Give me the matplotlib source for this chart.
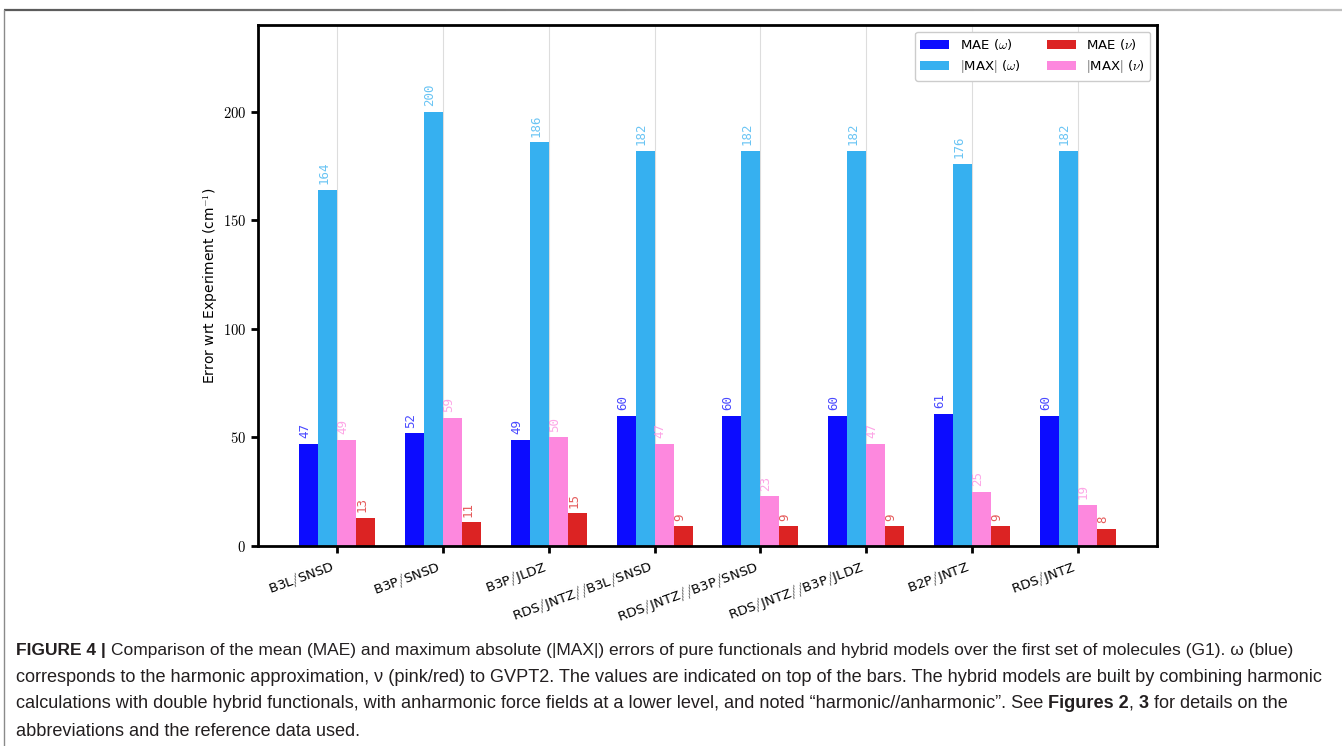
import matplotlib
matplotlib.use("Agg")
import matplotlib.pyplot as plt
import numpy as np
from matplotlib.collections import LineCollection
from matplotlib.lines import Line2D

plt.rcParams['mathtext.fontset'] = 'cm'
plt.rcParams['font.family'] = ['DejaVu Sans']

# Erreurs par modèle (cm-1)
models = [r'B3L$/$SNSD', r'B3P$/$SNSD', r'B3P$/$JLDZ',
          r'RDS$/$JNTZ$/$$/$B3L$/$SNSD', r'RDS$/$JNTZ$/$$/$B3P$/$SNSD',
          r'RDS$/$JNTZ$/$$/$B3P$/$JLDZ', r'B2P$/$JNTZ', r'RDS$/$JNTZ']
mae_w = [47, 52, 49, 60, 60, 60, 61, 60]
max_w = [164, 200, 186, 182, 182, 182, 176, 182]
max_v = [49, 59, 50, 47, 23, 47, 25, 19]
mae_v = [13, 11, 15, 9, 9, 9, 9, 8]
yticks = [0, 50, 100, 150, 200]

series = [
    (mae_w, '#0c0cff', r'MAE ($\omega$)'),
    (max_w, '#36b0f0', r'$|$MAX$|$ ($\omega$)'),
    (max_v, '#fd88de', r'$|$MAX$|$ ($\nu$)'),
    (mae_v, '#dc2323', r'MAE ($\nu$)'),
]

fig = plt.figure(figsize=(13.42, 7.46), dpi=100)
ax = fig.add_axes([0.1923, 0.2681, 0.6698, 0.6984])

x = np.arange(len(models))
w = 0.18
bars = {}
for i, (vals, col, lab) in enumerate(series):
    b = ax.bar(x + (i - 1.5) * w, vals, w, color=col, label=lab, zorder=2)
    bars[lab] = b
    for xi, v in zip(x + (i - 1.5) * w, vals):
        ax.annotate(str(v), (xi - 0.2 * w, v), xytext=(0, 4),
                    textcoords='offset points', rotation=90,
                    ha='center', va='bottom', fontsize=9,
                    family='DejaVu Sans Mono', color=col, alpha=0.75)

ax.set_xlim(-0.75, 7.75)
ax.set_ylim(0, 240)
ax.set_xticks(x)
ax.set_xticklabels(models, rotation=20, ha='right', fontsize=9.5)
ax.set_yticks(yticks)
ax.set_yticklabels(['$%d$' % t for t in yticks], fontsize=10.5)
ax.set_ylabel(r'Error wrt Experiment (cm$^{-1}$)', fontsize=10, labelpad=2)
ax.grid(axis='x', color='#dddddd', linewidth=0.8, zorder=0)
ax.set_axisbelow(True)
for s in ax.spines.values():
    s.set_linewidth(2)
ax.tick_params(axis='both', width=2, length=5)

h = [bars[series[0][2]], bars[series[1][2]], bars[series[3][2]], bars[series[2][2]]]
leg = ax.legend(h, [r'MAE ($\omega$)', r'$|$MAX$|$ ($\omega$)', r'MAE ($\nu$)', r'$|$MAX$|$ ($\nu$)'],
                loc='upper right', ncol=2, fontsize=9.5, framealpha=1,
                edgecolor='#cccccc', columnspacing=2.0, handlelength=2.2)

# cadre de la figure
n = 200
xs = np.linspace(0.003, 1.0, n + 1)
segs = [[(xs[k], 0.987), (xs[k + 1], 0.987)] for k in range(n)]
grey = np.linspace(0.35, 0.75, n)
lc = LineCollection(segs, colors=[(g, g, g) for g in grey], linewidths=1.6,
                    transform=fig.transFigure)
fig.add_artist(lc)
fig.add_artist(Line2D([0.003, 0.003], [0.0, 0.987], color='#8a8a8a', lw=1,
                      transform=fig.transFigure))

# légende de la figure
cap_font = ['Liberation Sans Narrow', 'Liberation Sans', 'DejaVu Sans']
lines = [
    (12.5, [('FIGURE 4 | ', 'bold'), ('Comparison of the mean (MAE) and maximum absolute (|MAX|) errors of pure functionals and hybrid models over the first set of molecules (G1). ω (blue)', 'normal')]),
    (13.1, [('corresponds to the harmonic approximation, ν (pink/red) to GVPT2. The values are indicated on top of the bars. The hybrid models are built by combining harmonic', 'normal')]),
    (13.1, [('calculations with double hybrid functionals, with anharmonic force fields at a lower level, and noted “harmonic//anharmonic”. See ', 'normal'),
            ('Figures 2', 'bold'), (', ', 'normal'), ('3', 'bold'), (' for details on the', 'normal')]),
    (13.1, [('abbreviations and the reference data used.', 'normal')]),
]
renderer = fig.canvas.get_renderer()
y0 = 1 - 650 / 746
for k, (size, parts) in enumerate(lines):
    xp = 16 / 1342
    yp = y0 - k * 27 / 746
    for txt, wt in parts:
        t = fig.text(xp, yp, txt, fontsize=size, fontweight=wt,
                     family=cap_font, color='#231f20', va='center', ha='left')
        bb = t.get_window_extent(renderer)
        xp += bb.width / fig.bbox.width

fig.savefig('out.png', dpi=100)
